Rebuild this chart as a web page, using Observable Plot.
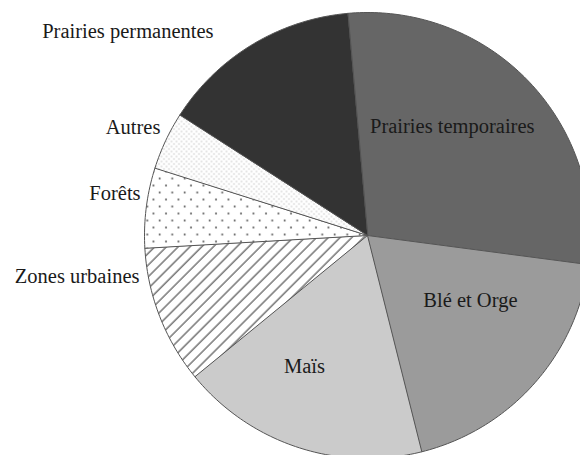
<!DOCTYPE html>
<html>
<head>
<meta charset="utf-8">
<script src="https://cdn.jsdelivr.net/npm/d3@7"></script>
<script src="https://cdn.jsdelivr.net/npm/@observablehq/plot@0.6"></script>
<style>
  html, body { margin: 0; padding: 0; background: #fff; }
  svg { display: block; }
</style>
</head>
<body>
<div id="chart"></div>
<script>
// ---- data ----
const categories = ["Prairies temporaires", "Blé et Orge", "Maïs", "Zones urbaines", "Forêts", "Autres", "Prairies permanentes"];
const values = [28.5, 19, 18, 10, 5.8, 4.2, 14.5];
const fills = ["#666666", "#9b9b9b", "#cbcbcb", "url(#hatch)", "url(#dots)", "url(#fine)", "#333333"];
// label placement: angle in degrees clockwise from top, radius factor, text anchor
const labelAngles = [37.8, 122.3, 205.7, 259.8, 280.5, 297.5, 310.4];
const labelRadii = [0.62, 0.546, 0.652, 1.039, 1.035, 1.047, 1.411];
const labelAnchors = ["middle", "middle", "middle", "end", "end", "end", "middle"];

// ---- geometry ----
const W = 580, H = 455;
const cx = 367, cy = 235, R = 223;
const startDeg = -5.1;
const pie = d3.pie().sort(null).value(d => d)
  .startAngle(startDeg * Math.PI / 180)
  .endAngle(startDeg * Math.PI / 180 + 2 * Math.PI);
const arcs = pie(values);

const pts = [];
arcs.forEach((a, i) => {
  const n = Math.max(8, Math.ceil((a.endAngle - a.startAngle) * 180 / Math.PI));
  pts.push({key: categories[i], fill: fills[i], x: 0, y: 0});
  for (let k = 0; k <= n; k++) {
    const t = a.startAngle + (a.endAngle - a.startAngle) * k / n;
    pts.push({key: categories[i], fill: fills[i], x: Math.sin(t), y: Math.cos(t)});
  }
});

const labels = categories.map((c, i) => {
  const t = labelAngles[i] * Math.PI / 180;
  return {text: c, x: labelRadii[i] * Math.sin(t), y: labelRadii[i] * Math.cos(t), anchor: labelAnchors[i]};
});

const svg = Plot.plot({
  width: W,
  height: H,
  margin: 0,
  x: {domain: [-cx / R, (W - cx) / R], axis: null},
  y: {domain: [-(H - cy) / R, cy / R], axis: null},
  color: {type: "identity"},
  style: {background: "#fff", overflow: "hidden"},
  marks: [
    Plot.line(pts, {x: "x", y: "y", z: "key", fill: "fill", stroke: "#555", strokeWidth: 1, curve: "linear-closed"}),
    ...["middle", "end"].map(anc => Plot.text(labels.filter(d => d.anchor === anc), {
      x: "x", y: "y", text: "text", textAnchor: anc,
      fontFamily: "Liberation Serif", fontSize: 20.5, fill: "#1a1a1a"
    }))
  ]
});

// patterns
const defs = d3.select(svg).insert("defs", ":first-child");
const hatch = defs.append("pattern").attr("id", "hatch").attr("patternUnits", "userSpaceOnUse")
  .attr("width", 8.3).attr("height", 8.3).attr("patternTransform", "rotate(45)");
hatch.append("rect").attr("width", 8.3).attr("height", 8.3).attr("fill", "#fff");
hatch.append("line").attr("x1", 1).attr("y1", 0).attr("x2", 1).attr("y2", 8.3).attr("stroke", "#444").attr("stroke-width", 1.1);

const dots = defs.append("pattern").attr("id", "dots").attr("patternUnits", "userSpaceOnUse")
  .attr("width", 12.5).attr("height", 14);
dots.append("rect").attr("width", 12.5).attr("height", 14).attr("fill", "#fff");
dots.append("circle").attr("cx", 3).attr("cy", 3).attr("r", 1).attr("fill", "#555");
dots.append("circle").attr("cx", 9.25).attr("cy", 10).attr("r", 1).attr("fill", "#555");

const fine = defs.append("pattern").attr("id", "fine").attr("patternUnits", "userSpaceOnUse")
  .attr("width", 5).attr("height", 5);
fine.append("rect").attr("width", 5).attr("height", 5).attr("fill", "#fff");
fine.append("circle").attr("cx", 1).attr("cy", 1).attr("r", 0.8).attr("fill", "#c4c4c4");
fine.append("circle").attr("cx", 3.5).attr("cy", 3.5).attr("r", 0.8).attr("fill", "#c4c4c4");

document.getElementById("chart").appendChild(svg);
</script>
</body>
</html>
